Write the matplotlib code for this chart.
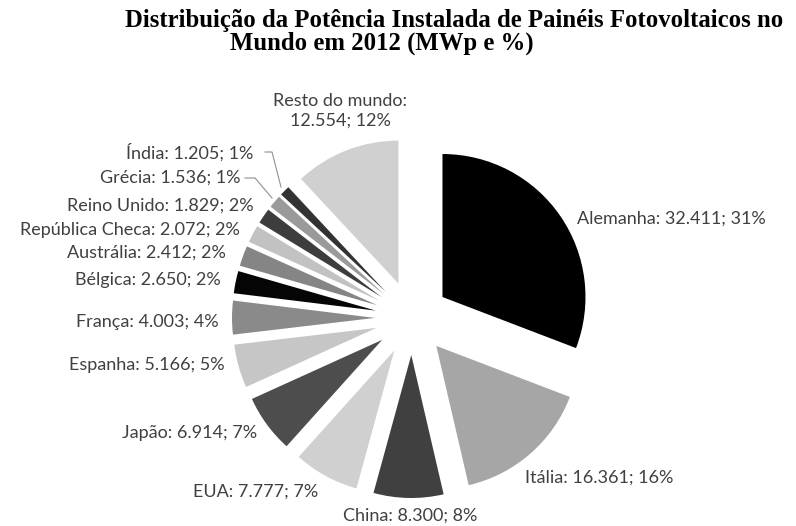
import matplotlib
matplotlib.use("Agg")
import matplotlib.pyplot as plt

# data
countries = ["Alemanha", "Itália", "China", "EUA", "Japão", "Espanha", "França",
             "Bélgica", "Austrália", "República Checa", "Reino Unido", "Grécia",
             "Índia", "Resto do mundo"]
mwp = [32411, 16361, 8300, 7777, 6914, 5166, 4003, 2650, 2412, 2072, 1829, 1536,
       1205, 12554]
percent = [31, 16, 8, 7, 7, 5, 4, 2, 2, 2, 2, 1, 1, 12]

colors = ["#000000", "#a6a6a6", "#404040", "#d0d0d0", "#4d4d4d", "#c6c6c6",
          "#8a8a8a", "#050505", "#858585", "#c2c2c2", "#3d3d3d", "#9a9a9a",
          "#333333", "#d0d0d0"]

# label anchor (x, y in pixels from top-left) and horizontal alignment
label_pos = [(577, 219, "left"), (525, 478, "left"), (410, 516, "center"),
             (318, 492, "right"), (257, 433, "right"), (225, 365, "right"),
             (219, 322, "right"), (221, 280, "right"), (226, 253, "right"),
             (240, 230, "right"), (254, 206, "right"), (240, 178, "right"),
             (253, 152, "right"), (340, 111, "center")]

W, H = 796, 526
fig = plt.figure(figsize=(W / 100, H / 100), dpi=100)
ax = fig.add_axes([0, 0, 1, 1])

# explode is in data units here (pixels)
ax.pie(mwp, colors=colors, explode=[37] * len(mwp), startangle=90,
       counterclock=False, center=(412, H - 318), radius=143,
       wedgeprops=dict(linewidth=0))
ax.set_xlim(0, W)
ax.set_ylim(0, H)
ax.set_aspect("equal")
ax.axis("off")

for name, v, p, (x, y, ha) in zip(countries, mwp, percent, label_pos):
    num = f"{v:,}".replace(",", ".")
    if name == "Resto do mundo":
        txt = f"{name}:\n{num}; {p}%"
    else:
        txt = f"{name}: {num}; {p}%"
    ax.text(x, H - y, txt, ha=ha, va="center", fontsize=13, color="#404040",
            family="Lato", linespacing=1.25, multialignment="center")

# leader lines for the two smallest slices
ax.plot([265, 272, 281], [H - 152, H - 152, H - 187], color="#909090", lw=0.8)
ax.plot([245, 255, 272], [H - 178, H - 178, H - 198], color="#909090", lw=0.8)

ax.text(454, H - 20, "Distribuição da Potência Instalada de Painéis Fotovoltaicos no",
        ha="center", va="center", fontsize=17.8, fontweight="bold",
        family="Liberation Serif")
ax.text(382, H - 43, "Mundo em 2012 (MWp e %)", ha="center", va="center",
        fontsize=17.8, fontweight="bold", family="Liberation Serif")

fig.savefig("out.png", dpi=100)
